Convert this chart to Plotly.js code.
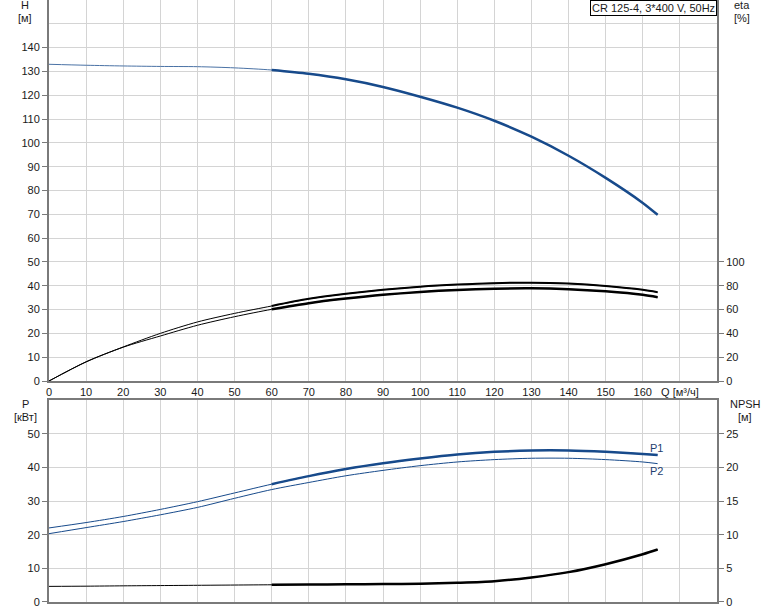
<!DOCTYPE html>
<html>
<head>
<meta charset="utf-8">
<script src="https://cdn.plot.ly/plotly-3.0.1.min.js"></script>
<style>html,body{margin:0;padding:0;background:#fff;}#chart{width:774px;height:611px;}</style>
</head>
<body>
<div id="chart"></div>
<script>
// Flow rate Q [m3/h]
const Q = [0,10,20,30,40,50,60,70,80,90,100,110,120,130,140,150,160,164];
// Head H [m]
const H = [133.0,132.6,132.3,132.1,132.0,131.5,130.6,129.0,126.7,123.5,119.4,114.8,109.3,102.6,94.6,85.3,74.8,69.8];
// Efficiency eta [%] (upper and lower curves)
const etaUpper = [0,16.2,28.6,40,49.6,56.8,63,69,73.2,76.6,79.2,81,82.2,82.6,81.8,79.8,76.6,74.6];
const etaLower = [0,16,28.4,37.8,46.8,54,60.2,65.4,69.2,72.4,74.8,76.5,77.5,77.8,77.1,75.3,72.4,70.4];
// Power P [kW]
const P1 = [22.0,23.6,25.4,27.5,29.8,32.4,35.0,37.4,39.5,41.2,42.6,43.8,44.6,45.0,45.0,44.6,44.0,43.7];
const P2 = [20.3,22.1,23.9,25.9,28.1,30.8,33.4,35.5,37.5,39.1,40.5,41.6,42.3,42.7,42.7,42.3,41.6,41.1];
// NPSH [m]
const NPSH = [2.32,2.35,2.4,2.44,2.48,2.52,2.56,2.6,2.62,2.66,2.71,2.86,3.1,3.65,4.44,5.62,7.1,7.8];
// Tick labels
const qTicks = [0,10,20,30,40,50,60,70,80,90,100,110,120,130,140,150,160,170];
const qTickText = ['0','10','20','30','40','50','60','70','80','90','100','110','120','130','140','150','160','Q [м³/ч]'];
const hTicks = [0,10,20,30,40,50,60,70,80,90,100,110,120,130,140];
const etaTicks = [0,20,40,60,80,100];
const pTicks = [0,10,20,30,40,50];
const npshTicks = [0,5,10,15,20,25];
const boxLabel = 'CR 125-4, 3*400 V, 50Hz';

const opStart = Q.indexOf(60);
const opQ = Q.slice(opStart);

const blue = '#174a8b', blueThin = '#4a72a5';
const sp = {shape:'spline', smoothing:0.8};
function ln(color, width) { return Object.assign({color:color, width:width}, sp); }
const traces = [
  {x:Q, y:H, xaxis:'x', yaxis:'y', mode:'lines', line:ln(blueThin, 1)},
  {x:opQ, y:H.slice(opStart), xaxis:'x', yaxis:'y', mode:'lines', line:ln(blue, 2.5)},
  {x:Q, y:etaUpper, xaxis:'x', yaxis:'y2', mode:'lines', line:ln('#000', 1)},
  {x:Q, y:etaLower, xaxis:'x', yaxis:'y2', mode:'lines', line:ln('#000', 1)},
  {x:opQ, y:etaUpper.slice(opStart), xaxis:'x', yaxis:'y2', mode:'lines', line:ln('#000', 2)},
  {x:opQ, y:etaLower.slice(opStart), xaxis:'x', yaxis:'y2', mode:'lines', line:ln('#000', 2.5)},
  {x:Q, y:P1, xaxis:'x2', yaxis:'y3', mode:'lines', line:ln(blue, 1)},
  {x:opQ, y:P1.slice(opStart), xaxis:'x2', yaxis:'y3', mode:'lines', line:ln(blue, 2.5)},
  {x:Q, y:P2, xaxis:'x2', yaxis:'y3', mode:'lines', line:ln(blue, 1)},
  {x:Q, y:NPSH, xaxis:'x2', yaxis:'y4', mode:'lines', line:ln('#000', 1)},
  {x:opQ, y:NPSH.slice(opStart), xaxis:'x2', yaxis:'y4', mode:'lines', line:ln('#000', 2.5)}
];

const grid = '#d4d4d4', axisLine = '#7a7a7a';
const txt = '#1a1a1a';
const L = 49, R = 717, B = 602;
const px = v => (v - L) / (R - L);
const py = v => (B - v) / B;
function ann(text, x, y, extra) {
  return Object.assign({text:text, xref:'paper', yref:'paper', x:px(x), y:py(y), xanchor:'center', yanchor:'middle', showarrow:false, font:{size:11, color:txt}}, extra||{});
}

const layout = {
  width:774, height:611,
  margin:{l:L, r:774-R, t:0, b:611-B, pad:0},
  paper_bgcolor:'#fff', plot_bgcolor:'#fff',
  font:{family:'Liberation Sans, Arial, sans-serif', size:11, color:txt},
  showlegend:false, hovermode:false,
  xaxis:{domain:[0,1], anchor:'y', range:[0,180], tickmode:'array', tickvals:qTicks, ticktext:qTickText,
    showgrid:true, gridcolor:grid, gridwidth:1, zeroline:false, showline:true, linecolor:axisLine, linewidth:2, mirror:true, ticks:'', ticklen:0},
  yaxis:{domain:[0.3671,1], anchor:'x', range:[0,160], tickmode:'array', tickvals:hTicks,
    showgrid:true, gridcolor:grid, zeroline:false, showline:true, linecolor:axisLine, linewidth:2, ticks:'outside', ticklen:5, tickcolor:axisLine,
    minor:{tickmode:'array', tickvals:[150], showgrid:true, gridcolor:grid, ticks:''}},
  yaxis2:{overlaying:'y', anchor:'x', side:'right', range:[0,320], tickmode:'array', tickvals:etaTicks,
    showgrid:false, zeroline:false, showline:true, linecolor:axisLine, linewidth:2, ticks:'outside', ticklen:5, tickcolor:axisLine},
  xaxis2:{domain:[0,1], anchor:'y3', range:[0,180], tickmode:'array', tickvals:qTicks, showticklabels:false,
    showgrid:true, gridcolor:grid, zeroline:false, showline:true, linecolor:axisLine, linewidth:2, mirror:true, ticks:''},
  yaxis3:{domain:[0,0.3355], anchor:'x2', range:[0,60], tickmode:'array', tickvals:pTicks,
    showgrid:true, gridcolor:grid, zeroline:false, showline:true, linecolor:axisLine, linewidth:2, ticks:'outside', ticklen:5, tickcolor:axisLine},
  yaxis4:{overlaying:'y3', anchor:'x2', side:'right', range:[0,30], tickmode:'array', tickvals:npshTicks,
    showgrid:false, zeroline:false, showline:true, linecolor:axisLine, linewidth:2, ticks:'outside', ticklen:5, tickcolor:axisLine},
  annotations:[
    ann('H', 25, 5), ann('[м]', 25, 17.5),
    ann('eta', 742, 5), ann('[%]', 742, 17.5),
    ann('P', 25, 404), ann('[кВт]', 25, 416.5),
    ann('NPSH', 745, 404), ann('[м]', 745, 416.5),
    ann('P1', 656, 448, {font:{size:11, color:'#1f3f6f'}}),
    ann('P2', 656, 470.5, {font:{size:11, color:'#1f3f6f'}}),
    {text:boxLabel, xref:'paper', yref:'paper', x:1, y:1, xanchor:'right', yanchor:'top', showarrow:false,
     font:{size:11, color:txt}, bgcolor:'#fff', bordercolor:'#000', borderwidth:1, borderpad:1}
  ]
};

Plotly.newPlot('chart', traces, layout, {staticPlot:true, displayModeBar:false});
</script>
</body>
</html>
